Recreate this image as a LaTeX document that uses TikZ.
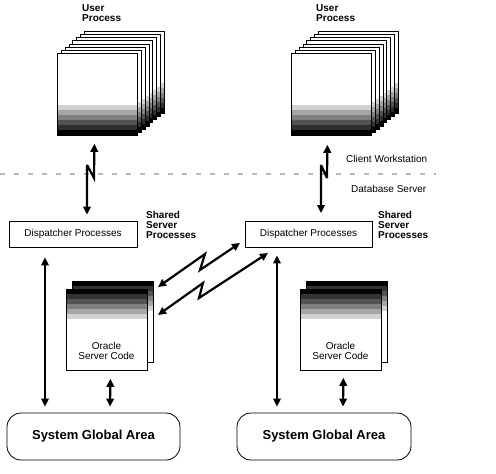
\documentclass[tikz,border=0pt]{standalone}
\usepackage{fontspec}
\setmainfont{Liberation Sans}
\usetikzlibrary{arrows.meta,calc}
\begin{document}
\begin{tikzpicture}[x=1pt,y=-1pt,
  txt/.style={font=\fontsize{10}{10}\selectfont, inner sep=0pt, align=left},
  btxt/.style={font=\bfseries\fontsize{10}{10}\selectfont, inner sep=0pt, align=left},
  ctxt/.style={font=\fontsize{10}{10}\selectfont, inner sep=0pt, align=center},
  userbox/.style={draw, line width=0.8pt, fill=white, minimum width=80pt, minimum height=82pt,
    inner sep=0pt, anchor=north west, path picture={
      \foreach \k/\c in {0/100,1/82,2/68,3/50,4/35,5/18}{
        \fill[black!\c] ($(path picture bounding box.south west)+(0pt,\k*5pt)$)
          rectangle ($(path picture bounding box.south east)+(0pt,\k*5pt+5pt)$);}}},
  orabox/.style={draw, line width=0.8pt, fill=white, minimum width=81pt, minimum height=81pt,
    inner sep=0pt, anchor=north west, path picture={
      \foreach \k/\c in {0/100,1/80,2/67,3/50,4/35,5/18}{
        \fill[black!\c] ($(path picture bounding box.north west)+(0pt,-\k*5pt)$)
          rectangle ($(path picture bounding box.north east)+(0pt,-\k*5pt-5pt)$);}}},
  dispbox/.style={draw, line width=0.8pt, minimum height=26pt, txt, align=center},
  sgabox/.style={draw, line width=0.8pt, rounded corners=14pt, minimum height=47pt,
    inner sep=0pt, font=\bfseries\fontsize{13}{13}\selectfont},
  conn/.style={line width=2.2pt, miter limit=4,
    {Triangle[length=8pt,width=7.5pt]}-{Triangle[length=8pt,width=7.5pt]}},
  divider/.style={gray!55, line width=1.5pt, dash pattern=on 5pt off 9pt}
]
\useasboundingbox (0,0) rectangle (496,474);

% divider
\coordinate (dvA) at (0,174);
\coordinate (dvB) at (436,174);
\draw[divider] (dvA) -- (dvB);

% user process stacks
\foreach \i in {7,6,...,0}{
  \node[userbox] (lu\i) at (57+3.86*\i, 53-3.15*\i) {};
}
\foreach \i in {7,6,...,0}{
  \node[userbox] (ru\i) at (291+3.86*\i, 53-3.15*\i) {};
}
\node[btxt, anchor=north west] (lul) at (82,4.5) {User\\Process};
\node[btxt, anchor=north west] (rul) at (316,4.5) {User\\Process};

\node[txt, anchor=base west] (cw) at (346,162.5) {Client Workstation};
\node[txt, anchor=base west] (dbs) at (351,192) {Database Server};

% dispatchers
\node[dispbox, minimum width=128pt] (ld) at (73,234) {Dispatcher Processes};
\node[dispbox, minimum width=127pt] (rd) at (308.5,234) {Dispatcher Processes};
\node[btxt, anchor=north west] (lss) at (146,211.5) {Shared\\Server\\Processes};
\node[btxt, anchor=north west] (rss) at (378,211.5) {Shared\\Server\\Processes};

% oracle server code
\node[orabox] (lob) at (72,281) {};
\node[orabox] (lof) at (66,289) {};
\node[ctxt] (loc) at (106.5,350.5) {Oracle\\Server Code};
\node[orabox] (rob) at (306,281) {};
\node[orabox] (rof) at (300,289) {};
\node[ctxt] (roc) at (340.5,350.5) {Oracle\\Server Code};

% SGA
\node[sgabox, minimum width=173pt] (lsga) at (93.5,436.5) {System Global Area};
\node[sgabox, minimum width=174pt] (rsga) at (324,436.5) {System Global Area};

% lightning connectors user process <-> dispatcher
\coordinate (lz1) at (87,165);
\coordinate (lz2) at (94,178);
\draw[conn] ([xshift=14pt,yshift=6pt]ld.north) -- (lz1) -- (lz2) -- ([xshift=-3pt,yshift=-8pt]lu0.south);
\coordinate (rz1) at (321,165);
\coordinate (rz2) at (327,178);
\draw[conn] ([xshift=12.5pt,yshift=7.5pt]rd.north) -- (rz1) -- (rz2) -- ([xshift=-4pt,yshift=-9pt]ru0.south);

% lightning connectors oracle (left) <-> right dispatcher
\coordinate (d1a) at (158,287);
\coordinate (d1b) at (205,254);
\coordinate (d1c) at (200,270);
\coordinate (d1d) at (240,243);
\draw[conn] (d1a) -- (d1b) -- (d1c) -- (d1d);
\coordinate (d2a) at (158,315);
\coordinate (d2b) at (203,283);
\coordinate (d2c) at (199,298);
\coordinate (d2d) at (268,253);
\draw[conn] (d2a) -- (d2b) -- (d2c) -- (d2d);

% vertical connectors
\draw[conn] ([xshift=-28pt,yshift=-10pt]ld.south) -- ([xshift=-48.5pt,yshift=6pt]lsga.north);
\draw[conn] ([xshift=-31.5pt,yshift=-8pt]rd.south) -- ([xshift=-47pt,yshift=6pt]rsga.north);
\draw[conn] ([xshift=3.5pt,yshift=-8pt]lof.south) -- ([xshift=16.5pt,yshift=6pt]lsga.north);
\draw[conn] ([xshift=2.5pt,yshift=-7pt]rof.south) -- ([xshift=19pt,yshift=6pt]rsga.north);
\end{tikzpicture}
\end{document}
